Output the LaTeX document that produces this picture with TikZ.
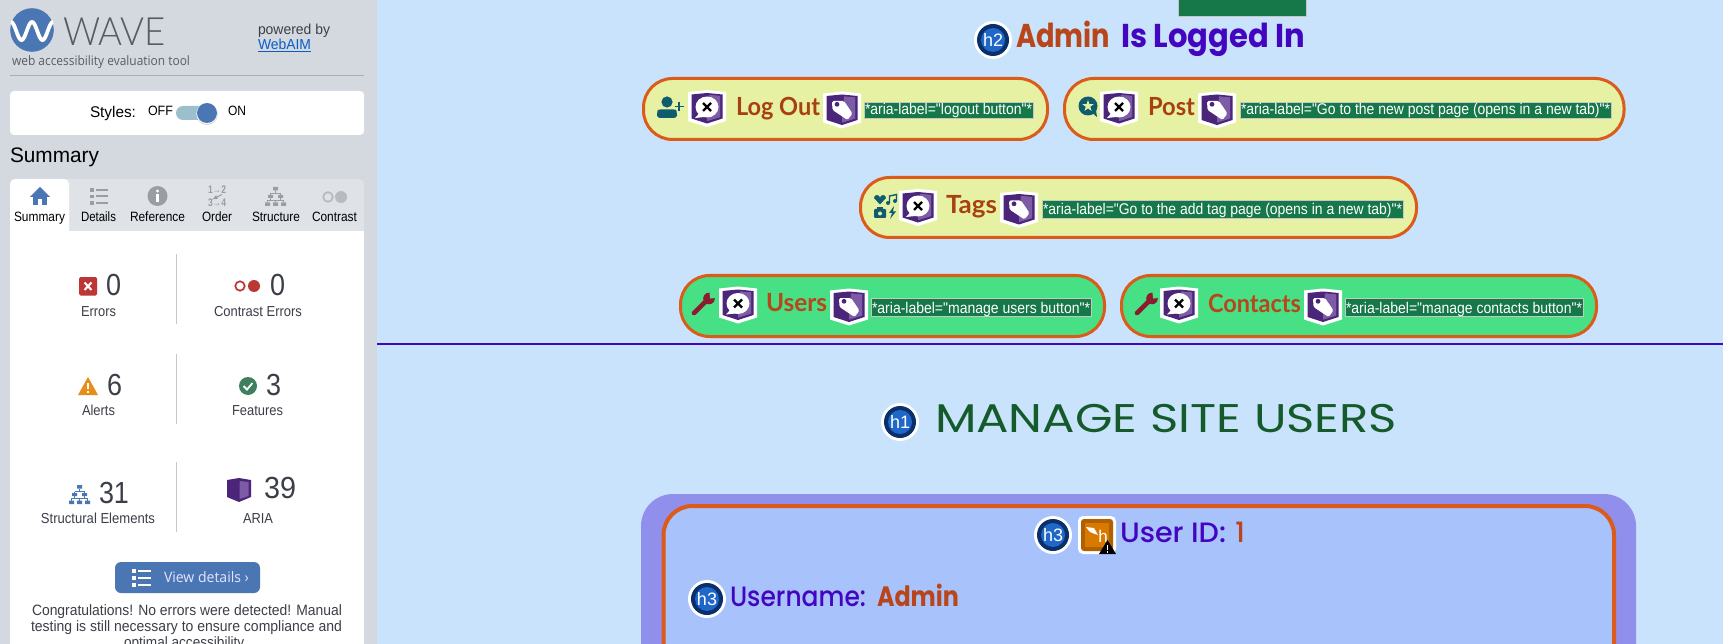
\documentclass[tikz,border=0pt]{standalone}
\usepackage{fontspec}
\usepackage{graphicx}
\setmainfont{Liberation Sans}
\newfontfamily\plainf{Liberation Sans}
\newfontfamily\osans{Open Sans}
\newfontfamily\lato{Lato}
\newfontfamily\latol{Lato Light}
\newfontfamily\pop{Poppins}
\newfontfamily\popm{Poppins Medium}
\definecolor{side}{HTML}{D4D9E0}
\definecolor{mainbg}{HTML}{C8E3FB}
\definecolor{tabbar}{HTML}{DFE3E8}
\definecolor{wblue}{HTML}{4A76B4}
\definecolor{txt}{HTML}{3C3F48}
\definecolor{gicon}{HTML}{9A9EA3}
\definecolor{shpur}{HTML}{4A2579}
\definecolor{shlit}{HTML}{7D5CA5}
\definecolor{ariag}{HTML}{167848}
\definecolor{pillb}{HTML}{DC5A1A}
\definecolor{pilly}{HTML}{E6F1A4}
\definecolor{pillg}{HTML}{48E084}
\definecolor{teal}{HTML}{0F5C6E}
\definecolor{wrenchc}{HTML}{8C1B2E}
\definecolor{rust}{HTML}{A8400F}
\definecolor{rust2}{HTML}{B8461A}
\definecolor{indig}{HTML}{4405C0}
\definecolor{forest}{HTML}{155A2A}
\definecolor{cardo}{HTML}{908FEC}
\definecolor{cardi}{HTML}{A8C3FC}
\definecolor{navy}{HTML}{0B2F6B}
\definecolor{bblue}{HTML}{1F67C9}
\definecolor{errred}{HTML}{BC3636}
\definecolor{alertc}{HTML}{E58E1A}
\definecolor{featc}{HTML}{3F7F5F}
\definecolor{hbord}{HTML}{B06000}
\definecolor{hfill}{HTML}{D97A00}
\definecolor{linkc}{HTML}{0B5CC8}
\definecolor{trackc}{HTML}{9BBFCC}
\newcounter{tn}
\newcommand\T[6]{\stepcounter{tn}\node[anchor=base west,inner sep=0pt,outer sep=0pt,text=#5] (t\thetn) at (#1,#3) {\resizebox{\dimexpr #2pt-#1pt\relax}{\height}{#4\strut #6}};}
\newcommand\fs[1]{\fontsize{#1}{#1}\selectfont}
\newcommand\badge[3]{\begin{scope}[shift={(#1,#2)}]
\fill[white] (0,0) circle (19);\fill[navy] (0,0) circle (16);\fill[bblue] (0,0) circle (12);
\stepcounter{tn}\node[inner sep=0pt,text=white,font=\fs{18}] (t\thetn) at (0,0) {#3};
\end{scope}}
\newcommand\shieldbase{\fill[white] (-19,-16.5) -- (0,-18.5) -- (19,-16.5) -- (19,12.5) -- (0,18.5) -- (-19,12.5) -- cycle;
\fill[shpur] (-15.5,-14) -- (0,-15.5) -- (15.5,-14) -- (15.5,10) -- (0,15) -- (-15.5,10) -- cycle;
\fill[shlit] (2,-13.5) -- (13,-12.5) -- (13,8.5) -- (0,12.5) -- (0,8) -- (13,5) -- cycle;
\fill[shlit] (2,-13.5) -- (13,-12.5) -- (13,8.5) -- (0,12.5) -- (0,9) -- cycle;}
\newcommand\shX[2]{\begin{scope}[shift={(#1,#2)}]\shieldbase
\fill[white] (0,-1.5) ellipse [x radius=11.5,y radius=10.5];
\fill[white] (-7,4) -- (-12,9.5) -- (2,8) -- cycle;
\draw[black,line width=2.2pt] (-4,-5.5) -- (4,2.5) (4,-5.5) -- (-4,2.5);
\end{scope}}
\newcommand\shT[2]{\begin{scope}[shift={(#1,#2)}]\shieldbase
\fill[white,rounded corners=1.5pt] (-10,-9) -- (2,-9) -- (10.5,3.5) -- (5.5,10) -- (-9.5,0) -- cycle;
\fill[shpur] (-5,-5.7) circle (2.4);
\end{scope}}
\newcommand\aria[5]{\fill[ariag,draw=gray!45,line width=.8pt] (#1,#3) rectangle (#2,#4);
\T{\the\numexpr#1+1\relax}{\the\numexpr#2-1\relax}{\the\numexpr#4-3\relax}{\plainf\fs{15.5}}{white}{#5}}
\newcommand\pill[5]{\draw[pillb,fill=#5,line width=3pt,rounded corners=29pt] (#1,#2) rectangle (#3,#4);}
\newcommand\wrench[2]{\begin{scope}[shift={(#1,#2)}]
\draw[wrenchc,line width=4.6pt,line cap=round] (-9,9) -- (4,-4);
\fill[wrenchc] (6,-5.5) circle (5.8);
\fill[pillg] (6.5,-12) -- (13,-12) -- (13,-6) -- (7,-5.5) -- cycle;
\end{scope}}
\newcommand\struct[4]{\begin{scope}[shift={(#1,#2)},scale=#3]
\draw[#4,line width=.9pt] (0,-6) -- (0,-3) (-5,-3) -- (5,-3) (-5,-3) -- (-5,-1) (5,-3) -- (5,-1) (-5,1) -- (-5,3.5) (5,1) -- (5,3.5) (-8,3.5) -- (8,3.5) (0,3.5) -- (0,6) (-8,3.5) -- (-8,6) (8,3.5) -- (8,6);
\fill[#4] (-2.5,-9.5) rectangle (2.5,-6) (-7.5,-1.5) rectangle (-2.5,1.5) (2.5,-1.5) rectangle (7.5,1.5) (-10.5,6) rectangle (-5.5,9.5) (-2.5,6) rectangle (2.5,9.5) (5.5,6) rectangle (10.5,9.5);
\end{scope}}
\begin{document}
\begin{tikzpicture}[x=1pt,y=-1pt]
\useasboundingbox (0,0) rectangle (1723,644);
\clip (0,0) rectangle (1723,644);
% backgrounds
\fill[mainbg] (0,0) rectangle (1723,644);
\fill[side] (0,0) rectangle (377,644);
% logo
\fill[wblue] (32,30) circle (21.8);
\draw[white,line width=3.8pt,domain=-21:21,samples=70,smooth] plot ({\x+32},{31-9*cos(360*\x/21)});
\T{63}{166}{46}{\latol\fs{39}}{txt!85}{WAVE}
\T{12}{190}{66}{\osans\fs{13}}{txt!85}{web accessibility evaluation tool}
\T{258}{330}{35}{\fs{14.5}}{txt}{powered by}
\T{258}{311}{50}{\fs{14.5}}{linkc}{WebAIM}
\draw[linkc,line width=.8pt] (258,51.5) -- (311,51.5);
\draw[gray!65,line width=.9pt] (10,75.5) -- (364,75.5);
% styles card
\fill[white,rounded corners=4pt] (10,91) rectangle (364,135);
\T{90}{136}{118}{\fs{15.5}}{black}{Styles:}
\T{148}{173}{116}{\fs{13.5}}{black}{OFF}
\fill[trackc,rounded corners=7pt] (176,106) rectangle (214,120);
\fill[gray!50] (207,114) circle (10.8);
\fill[white] (207,113.5) circle (10.6);
\fill[wblue] (207,113) circle (10);
\T{228}{246}{116}{\fs{13.5}}{black}{ON}
\T{10}{99}{163}{\fs{21}}{black}{Summary}
% tabs
\fill[tabbar,rounded corners=5pt] (10,179) rectangle (364,240);
\fill[white] (10,231) rectangle (364,644);
\fill[white,rounded corners=5pt] (10,179) rectangle (69,240);
% home
\fill[wblue] (40,187) -- (50,197) -- (30,197) -- cycle;
\fill[wblue] (33,196) rectangle (47,205);
\fill[white] (38,199) rectangle (42,205);
% details
\foreach \yy in {190,196.5,203} {\fill[gicon] (89.5,\yy-1.8) rectangle (93.5,\yy+1.8);\fill[gicon] (96,\yy-1) rectangle (108,\yy+1);}
% info
\fill[gicon] (157.5,196) circle (10);
\fill[white] (156,194) rectangle (159,202);\fill[white] (157.5,191) circle (1.7);
% order
\T{208}{226}{194}{\bfseries\fs{11}}{gicon}{1→2}
\T{208}{226}{207}{\bfseries\fs{11}}{gicon}{3→4}
\draw[gicon,line width=.9pt,-latex] (222,194.5) -- (212,199.5);
\struct{275.5}{196.5}{1}{gicon}
\draw[gicon!70,line width=1.8pt] (328,197) circle (4.8);
\fill[gicon!70] (341,197) circle (6);
\T{14}{65}{222}{\fs{13.5}}{black}{Summary}
\T{81}{116}{222}{\fs{13.5}}{black}{Details}
\T{130}{185}{222}{\fs{13.5}}{black}{Reference}
\T{202}{232}{222}{\fs{13.5}}{black}{Order}
\T{252}{300}{222}{\fs{13.5}}{black}{Structure}
\T{312}{357}{222}{\fs{13.5}}{black}{Contrast}
% dividers
\foreach \a/\b in {254/324,354/424,462/532} \draw[gray!45,line width=.9pt] (176.5,\a) -- (176.5,\b);
% stats
\fill[errred,rounded corners=1.5pt] (79,277) rectangle (97,295.5);
\draw[white,line width=2pt] (84.5,282.5) -- (91.5,290) (91.5,282.5) -- (84.5,290);
\T{106}{121}{295}{\fs{30.5}}{txt}{0}
\T{81}{116}{316}{\fs{14.5}}{txt}{Errors}
\draw[errred,line width=1.7pt] (240,286) circle (4.7);
\fill[errred] (254,286) circle (6);
\T{270}{285}{295}{\fs{30.5}}{txt}{0}
\T{214}{302}{316}{\fs{14.5}}{txt}{Contrast Errors}
\fill[alertc] (88,377) -- (98,395) -- (78,395) -- cycle;
\fill[white] (87,382.5) rectangle (89,389);\fill[white] (87,390.5) rectangle (89,392.5);
\T{107}{122}{395}{\fs{30.5}}{txt}{6}
\T{82}{115}{415}{\fs{14.5}}{txt}{Alerts}
\fill[featc] (248,386) circle (9);
\draw[white,line width=1.8pt] (243.5,386) -- (247,389.5) -- (252.5,383);
\T{266}{281}{395}{\fs{30.5}}{txt}{3}
\T{232}{283}{415}{\fs{14.5}}{txt}{Features}
\struct{79.5}{494.5}{1}{wblue}
\T{99}{129}{503}{\fs{30.5}}{txt}{31}
\T{41}{155}{523}{\fs{14.5}}{txt}{Structural Elements}
\fill[shpur] (227,480) -- (239,478) -- (251,480) -- (251,497) -- (239,502) -- (227,497) -- cycle;
\fill[shlit] (239.5,481) -- (248.5,482) -- (248.5,496) -- (239.5,499) -- cycle;
\T{264}{296}{498}{\fs{30.5}}{txt}{39}
\T{243}{273}{523}{\fs{14.5}}{txt}{ARIA}
% button
\fill[wblue,rounded corners=6pt] (115,562) rectangle (260,593);
\foreach \yy in {571,578,585} {\fill[white] (132,\yy-2) rectangle (136,\yy+2);\fill[white] (138,\yy-1) rectangle (151,\yy+1);}
\T{164}{249}{582}{\osans\fs{14.5}}{white!90!blue}{View details ›}
\T{32}{342}{615}{\fs{15}}{txt}{Congratulations! No errors were detected! Manual}
\T{31}{342}{631}{\fs{15}}{txt}{testing is still necessary to ensure compliance and}
\T{124}{247}{647}{\fs{15}}{txt}{optimal accessibility.}
% top
\fill[ariag,draw=gray!45,line width=.8pt] (1178,-3) rectangle (1306,16);
\badge{993}{40}{h2}
\T{1016}{1110}{48}{\pop\bfseries\fs{33}}{rust2}{Admin}
\T{1121}{1305}{48}{\pop\bfseries\fs{33}}{indig}{Is Logged In}
% pill 1
\pill{643.5}{78.5}{1047.5}{139.5}{pilly}
\begin{scope}[shift={(667,102)}]
\fill[teal] (0,0) circle (5.6);
\fill[teal,rounded corners=3pt] (-10,16) -- (-10,11) .. controls (-9,7) and (9,7) .. (10,11) -- (10,16) -- cycle;
\draw[teal,line width=1.7pt] (12,0) -- (12,9) (8,4.5) -- (17,4.5);
\end{scope}
\shX{707}{108.5}
\T{736}{820}{116}{\lato\bfseries\fs{25}}{rust}{Log Out}
\shT{842}{110}
\aria{864}{1033}{102}{118}{*aria-label="logout button"*}
% pill 2
\pill{1064.5}{78.5}{1624}{139.5}{pilly}
\begin{scope}[shift={(1088,106)}]
\fill[teal] (0,0) circle (9.5);
\fill[teal] (3,6) -- (9,11) -- (8,4) -- cycle;
\fill[pilly] (-90:6) -- (-54:2.4) -- (-18:6) -- (18:2.4) -- (54:6) -- (90:2.4) -- (126:6) -- (162:2.4) -- (198:6) -- (234:2.4) -- cycle;
\end{scope}
\shX{1119}{108.5}
\T{1148}{1195}{116}{\lato\bfseries\fs{25}}{rust}{Post}
\shT{1217}{110}
\aria{1240}{1611}{102}{118}{*aria-label="Go to the new post page (opens in a new tab)"*}
% pill 3
\pill{860.5}{177.5}{1416.5}{237.5}{pilly}
\fill[teal] (880,204.5) -- (874,198) arc (180:360:3) arc (180:360:3) -- cycle;
\fill[teal] (888,203) circle (2);\fill[teal] (895,201) circle (2);
\draw[teal,line width=1.4pt] (889.5,203) -- (889.5,196) -- (896.5,194.5) -- (896.5,201);
\fill[teal,rounded corners=1pt] (874,209) rectangle (886,218);\fill[teal] (877,207) rectangle (883,210);
\fill[pilly] (880,213.5) circle (2);
\fill[teal] (894,206) -- (889,213) -- (892,213) -- (890,219) -- (896,211.5) -- (893,211.5) -- cycle;
\shX{918}{207.5}
\T{946}{997}{214}{\lato\bfseries\fs{25}}{rust}{Tags}
\shT{1019}{209.5}
\aria{1042}{1403}{200}{218}{*aria-label="Go to the add tag page (opens in a new tab)"*}
% pill 4
\pill{680.5}{275.5}{1104.5}{336.5}{pillg}
\wrench{703}{304}
\shX{738}{305}
\T{766}{827}{312}{\lato\bfseries\fs{25}}{rust2}{Users}
\shT{849}{307}
\aria{871}{1091}{298}{316}{*aria-label="manage users button"*}
% pill 5
\pill{1121.5}{275.5}{1596.5}{336.5}{pillg}
\wrench{1146}{304}
\shX{1179}{305}
\T{1208}{1301}{312}{\lato\bfseries\fs{25}}{rust2}{Contacts}
\shT{1323}{307}
\aria{1345}{1583}{298}{316}{*aria-label="manage contacts button"*}
% rule
\draw[indig,line width=2.2pt] (377,344) -- (1723,344);
% h1
\badge{900}{422}{h1}
\T{935}{1397}{432}{\pop\fs{40}}{forest}{MANAGE SITE USERS}
% card
\fill[cardo,rounded corners=32pt] (641,494) rectangle (1636,700);
\draw[pillb,fill=cardi,line width=4pt,rounded corners=29pt] (663.5,506) rectangle (1614,700);
\badge{1053}{535}{h3}
\fill[white,rounded corners=5pt] (1078,516) rectangle (1116,554);
\fill[hbord,rounded corners=3pt] (1081,519) rectangle (1113,551);
\fill[hfill] (1085,523) rectangle (1109,547);
\fill[white] (1086,527) -- (1094,528) -- (1098,535) -- (1092,533) -- (1089,531) -- cycle;
\stepcounter{tn}\node[inner sep=0pt,text=white,font=\fs{17}] (t\thetn) at (1103,536) {h};
\fill[black] (1107.5,540) -- (1116,554) -- (1099,554) -- cycle;
\fill[white] (1106.8,544.5) rectangle (1108.2,550);\fill[white] (1106.8,551) rectangle (1108.2,552.6);
\T{1120}{1226}{542}{\popm\fs{28}}{indig}{User ID:}
\T{1235}{1245}{542}{\popm\fs{28}}{rust2}{1}
\badge{707}{599}{h3}
\T{730}{866}{606}{\popm\fs{28}}{indig}{Username:}
\T{877}{959}{606}{\pop\bfseries\fs{28}}{rust2}{Admin}
\end{tikzpicture}
\end{document}
